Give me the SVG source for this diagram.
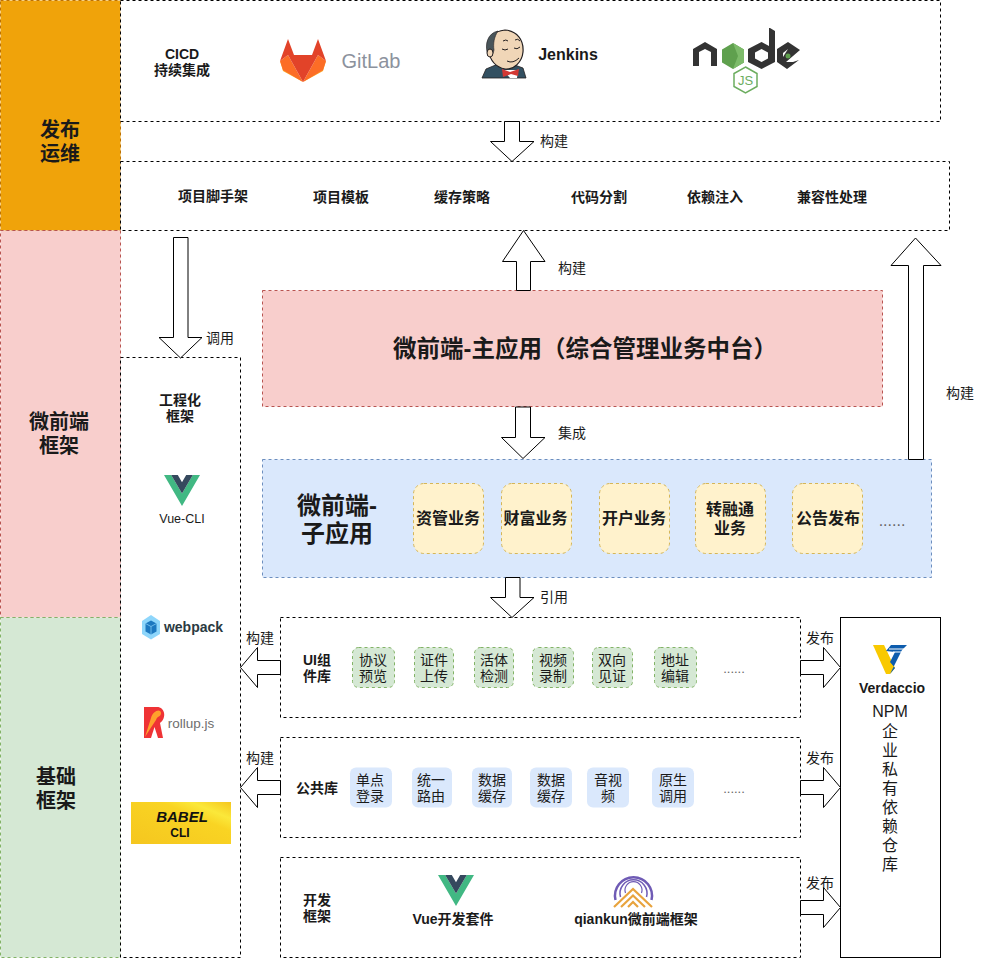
<svg xmlns="http://www.w3.org/2000/svg" width="982" height="958" viewBox="0 0 982 958">
<style>
text{font-family:"Liberation Sans","Noto Sans CJK SC",sans-serif;fill:#1a1a1a;text-anchor:middle;dominant-baseline:central}
.b{font-weight:700}
.s14{font-size:14px}.s12{font-size:12.500px}.s16{font-size:16px}.s20{font-size:20px}
.dots{font-size:13px;fill:#666}
.box{fill:#fff;stroke:#000;stroke-dasharray:3 3}
.arrow{fill:#fff;stroke:#000;stroke-width:1}
.card{fill:#fff2cc;stroke:#d6b656;stroke-dasharray:3 3}
.gc{fill:#d5e8d4;stroke:#82b366;stroke-dasharray:3 3}
.bc{fill:#dae8fc}
</style>
<defs>
<symbol id="vue" viewBox="0 0 36 31">
<path d="M0 0H7.200L18 18.600 28.800 0H36L18 31Z" fill="#41b883"/>
<path d="M7.200 0H13.800L18 7.300 22.200 0H28.800L18 18.600Z" fill="#35495e"/>
</symbol>
<linearGradient id="babel-bg" x1="0" y1="1" x2="1" y2="0">
<stop offset="0" stop-color="#f5c61f"/><stop offset=".65" stop-color="#f9d423"/><stop offset=".8" stop-color="#fbe83a"/><stop offset="1" stop-color="#f5c61f"/>
</linearGradient>
</defs>

<g id="band-ops"><rect x="0.500" y="0.500" width="120" height="230" fill="#f0a30a" stroke="#bd7000" stroke-dasharray="3 3"/><text class="b s20" x="60" y="130">发布</text><text class="b s20" x="60" y="154">运维</text></g>
<g id="band-micro"><rect x="0.500" y="230.500" width="120" height="387" fill="#f8cecc" stroke="#b85450" stroke-dasharray="3 3"/><text class="b s20" x="59" y="422">微前端</text><text class="b s20" x="59" y="446">框架</text></g>
<g id="band-base"><rect x="0.500" y="617.500" width="120" height="340" fill="#d5e8d4" stroke="#82b366" stroke-dasharray="3 3"/><text class="b s20" x="56" y="777">基础</text><text class="b s20" x="56" y="801">框架</text></g>

<g id="cicd">
<rect class="box" x="120.500" y="0.500" width="820" height="121"/>
<text class="b s14" x="182" y="54">CICD</text><text class="b s14" x="182" y="70">持续集成</text>
<g id="gitlab-logo">
<path d="M303 82L280 61 283 71Z" fill="#fca326"/>
<path d="M303 82L326 61 323 71Z" fill="#fca326"/>
<path d="M288 55L280 61 283 70 303 82Z" fill="#fc6d26"/>
<path d="M318 55L326 61 323 70 303 82Z" fill="#fc6d26"/>
<path d="M303 82L288 55H318Z" fill="#e24329"/>
<path d="M280 61L288 39 294 55H288Z" fill="#e24329"/>
<path d="M326 61L318 39 312 55H318Z" fill="#e24329"/>
<text x="371" y="61" style="font-size:20px;fill:#8c929d">GitLab</text>
</g>
<g id="jenkins-logo">
<path d="M482 78L486 69 498 64 512 64 523 68 526 78Z" fill="#335061" stroke="#231f20" stroke-width=".8"/>
<path d="M503 70L510 78H517L518 70Z" fill="#fff"/>
<path d="M488 50C486 38 494 31 505 30 517 31 524 40 523 52 522 62 514 70 505 69 495 67 490 60 488 50Z" fill="#f0d6b7" stroke="#231f20" stroke-width="1.200"/>
<path d="M488 55C484 44 488 33 498 31 494 37 493 44 494 50 493 55 490 57 488 55Z" fill="#49555a" stroke="#231f20" stroke-width=".6"/>
<ellipse cx="490" cy="53" rx="3" ry="4" fill="#f0d6b7" stroke="#231f20"/>
<path d="M502 49Q505 51 508 49M514 48Q517 50 520 47M503 41Q506 39 508 41M515 40Q518 38 520 41M507 61Q513 64 519 58" fill="none" stroke="#231f20" stroke-width="1"/>
<path d="M502 69L510 72 519 69 518 76 511 74 503 77Z" fill="#d33833"/>
<text class="b s16" x="568" y="54">Jenkins</text>
</g>
<g id="node-logo">
<path d="M693 66V49L705 42 717 49V66H711V52L705 49 699 52V66Z" fill="#333"/>
<path d="M733 43L744 49.500V62.500L733 69 722 62.500V49.500Z" fill="#5fa04e"/>
<path d="M733 43L744 49.500V62.500L733 69 738 56Z" fill="#7dbb6a"/>
<path d="M770 28L775 31V62L761.500 69 748 62V49L761.500 42 769 46V28ZM761.500 49L755 52.500V58.500L761.500 62 768 58.500V52.500Z" fill="#333" fill-rule="evenodd"/>
<path d="M788 42L800 50 786 62 793 62 799 60 787 69 777 62V49ZM788 49L783 53V57Z" fill="#333" fill-rule="evenodd"/>
<circle cx="788" cy="56" r="2.500" fill="#5fa04e"/>
<path d="M745.500 67L757 73.500V86.500L745.500 93 734 86.500V73.500Z" fill="#fff" stroke="#6cad5f" stroke-width="1.500"/>
<text x="745.500" y="80" style="font-size:13px;fill:#6cad5f">JS</text>
</g>
</g>

<g id="build-options">
<rect class="box" x="120.500" y="161.500" width="829" height="69"/>
<text class="b s14" x="213" y="196">项目脚手架</text>
<text class="b s14" x="341" y="197">项目模板</text>
<text class="b s14" x="462" y="197">缓存策略</text>
<text class="b s14" x="599" y="197">代码分割</text>
<text class="b s14" x="715" y="197">依赖注入</text>
<text class="b s14" x="832" y="197">兼容性处理</text>
</g>

<g id="main-app">
<rect x="262.500" y="290.500" width="620" height="116" fill="#f8cecc" stroke="#b85450" stroke-dasharray="3 3"/>
<text class="b" x="585" y="349" style="font-size:23.500px">微前端-主应用（综合管理业务中台）</text>
</g>

<g id="sub-app">
<rect x="262.500" y="459.500" width="669" height="118" fill="#dae8fc" stroke="#6c8ebf" stroke-dasharray="3 3"/>
<text class="b" x="337" y="505" style="font-size:24px">微前端-</text>
<text class="b" x="337" y="533" style="font-size:24px">子应用</text>
<rect class="card" x="413.500" y="483.500" width="70" height="70" rx="10.500"/><text class="b s16" x="448" y="518">资管业务</text>
<rect class="card" x="501.500" y="483.500" width="70" height="70" rx="10.500"/><text class="b s16" x="535.500" y="518">财富业务</text>
<rect class="card" x="599.500" y="483.500" width="70" height="70" rx="10.500"/><text class="b s16" x="634" y="518">开户业务</text>
<rect class="card" x="695.500" y="483.500" width="70" height="70" rx="10.500"/><text class="b s16" x="730" y="509">转融通</text><text class="b s16" x="730" y="528">业务</text>
<rect class="card" x="792.500" y="483.500" width="70" height="70" rx="10.500"/><text class="b s16" x="828" y="518">公告发布</text>
<text x="892" y="520" style="font-size:16px;fill:#666">......</text>
</g>

<g id="tooling">
<rect class="box" x="120.500" y="357.500" width="120" height="600"/>
<text class="b s14" x="180" y="400">工程化</text><text class="b s14" x="180" y="416">框架</text>
<use href="#vue" x="164" y="475" width="36" height="31"/>
<text class="s12" x="182" y="519">Vue-CLI</text>
<g id="webpack-logo">
<path d="M151 615L160 621V634L151 639.500 142 634V621Z" fill="#8ed6fb"/>
<path d="M151 620.500L156.500 623.500V631.500L151 634.500 145.500 631.500V623.500Z" fill="#1c78c0"/>
<path d="M145.500 623.500L151 626.500 156.500 623.500M151 626.500V634.500" fill="none" stroke="#8ed6fb" stroke-width=".7"/>
<text class="b s14" x="193.500" y="627" style="fill:#2b3a42">webpack</text>
</g>
<g id="rollup-logo">
<path d="M144 707H157C165 707 167 718 160 723L163 738H144Z" fill="#ef3335"/>
<path d="M145 737L151 718C153 711 160 708 161 713 161 717 157 716 156 720L150 729Z" fill="#ffa12c"/>
<path d="M151 738L154.500 727 158 738Z" fill="#fff"/>
<text x="191" y="723" style="font-size:13.500px;fill:#6e6e6e">rollup.js</text>
</g>
<g id="babel-logo">
<rect x="131" y="802" width="100" height="42" fill="url(#babel-bg)"/>
<text class="b" x="182" y="816" style="font-size:15px;font-style:italic;fill:#111">BABEL</text>
<text class="b" x="180" y="833" style="font-size:12px;fill:#111">CLI</text>
</g>
</g>

<g id="ui-lib">
<rect class="box" x="280.500" y="617.500" width="520" height="100"/>
<text class="b s14" x="317" y="660">UI组</text><text class="b s14" x="317" y="676">件库</text>
<rect class="gc" x="352.500" y="647.500" width="42" height="40" rx="6"/><text class="s14" x="373" y="660">协议</text><text class="s14" x="373" y="676">预览</text>
<rect class="gc" x="414.500" y="647.500" width="39" height="40" rx="6"/><text class="s14" x="434" y="660">证件</text><text class="s14" x="434" y="676">上传</text>
<rect class="gc" x="474.500" y="647.500" width="39" height="40" rx="6"/><text class="s14" x="494" y="660">活体</text><text class="s14" x="494" y="676">检测</text>
<rect class="gc" x="532.500" y="647.500" width="41" height="40" rx="6"/><text class="s14" x="553" y="660">视频</text><text class="s14" x="553" y="676">录制</text>
<rect class="gc" x="592.500" y="647.500" width="40" height="40" rx="6"/><text class="s14" x="612" y="660">双向</text><text class="s14" x="612" y="676">见证</text>
<rect class="gc" x="654.500" y="647.500" width="42" height="40" rx="6"/><text class="s14" x="675" y="660">地址</text><text class="s14" x="675" y="676">编辑</text>
<text class="dots" x="734" y="668">......</text>
</g>

<g id="common-lib">
<rect class="box" x="280.500" y="737.500" width="520" height="100"/>
<text class="b s14" x="317" y="788">公共库</text>
<rect class="bc" x="350" y="767.500" width="42" height="40" rx="6"/><text class="s14" x="370" y="780">单点</text><text class="s14" x="370" y="796">登录</text>
<rect class="bc" x="412" y="767.500" width="40" height="40" rx="6"/><text class="s14" x="431" y="780">统一</text><text class="s14" x="431" y="796">路由</text>
<rect class="bc" x="472" y="767.500" width="40" height="40" rx="6"/><text class="s14" x="492" y="780">数据</text><text class="s14" x="492" y="796">缓存</text>
<rect class="bc" x="530" y="767.500" width="42" height="40" rx="6"/><text class="s14" x="551" y="780">数据</text><text class="s14" x="551" y="796">缓存</text>
<rect class="bc" x="587" y="767.500" width="42" height="40" rx="6"/><text class="s14" x="608" y="780">音视</text><text class="s14" x="608" y="796">频</text>
<rect class="bc" x="652" y="767.500" width="42" height="40" rx="6"/><text class="s14" x="673" y="780">原生</text><text class="s14" x="673" y="796">调用</text>
<text class="dots" x="734" y="788">......</text>
</g>

<g id="dev-framework">
<rect class="box" x="280.500" y="857.500" width="520" height="100"/>
<text class="b s14" x="317" y="900">开发</text><text class="b s14" x="317" y="916">框架</text>
<use href="#vue" x="438" y="875" width="36" height="31"/>
<text class="b s14" x="453" y="919">Vue开发套件</text>
<g id="qiankun-logo" fill="none">
<path d="M615.500 900A18.500 18.500 0 1 1 651.500 900" stroke="#6f5bb5" stroke-width="2.500"/>
<path d="M620.500 897A13.500 13.500 0 1 1 646.500 897" stroke="#6f5bb5" stroke-width="1.500"/>
<path d="M625.500 893A8.500 8.500 0 1 1 641.500 893" stroke="#6f5bb5" stroke-width="1.200"/>
<path d="M614 907L633 889 652 907M621 907L633 895.500 645 907M628 907L633 902 638 907" stroke="#e8a33d" stroke-width="2.200"/>
</g>
<text class="b s14" x="636" y="919">qiankun微前端框架</text>
</g>

<g id="npm-repo">
<rect x="840.500" y="617.500" width="100" height="340" fill="#fff" stroke="#000"/>
<g id="verdaccio-logo">
<path d="M873 645H884L895 668 890 674H886Z" fill="#f9c900"/>
<path d="M890 674L902 650 907 645H891L886 651 895 652 890 662 895 668Z" fill="#0d5cad"/>
<path d="M889 649H906M893 652H904" stroke="#fff" stroke-width="1"/>
</g>
<text class="b s14" x="892" y="688">Verdaccio</text>
<text class="s16" x="890" y="711">NPM</text>
<text class="s16" x="890" y="731">企</text><text class="s16" x="890" y="750">业</text><text class="s16" x="890" y="769">私</text><text class="s16" x="890" y="788">有</text><text class="s16" x="890" y="807">依</text><text class="s16" x="890" y="826">赖</text><text class="s16" x="890" y="845">仓</text><text class="s16" x="890" y="864">库</text>
</g>

<g id="connectors">
<path class="arrow" d="M504.500 121.500H519.500V141.500H534L512 161.500 490.500 141.500H504.500Z"/>
<path class="arrow" d="M516.500 290.500V261.500H502.500L523.500 230.500 545 261.500H530.500V290.500Z"/>
<path class="arrow" d="M908.500 459.500V265.500H891L915.500 238 941 265.500H923.500V459.500Z"/>
<path class="arrow" d="M173.500 237.500H188V337.500H202L180.500 358 159 337.500H173.500Z"/>
<path class="arrow" d="M515.500 407H530.500V437.500H545L523 458.500 501.500 437.500H515.500Z"/>
<path class="arrow" d="M505.500 577.500H520V597.500H534L512 617.500 490.500 597.500H505.500Z"/>
<path class="arrow" d="M280.500 660.500V674.500H257.500V687.500L240.500 667.500 257.500 647.500V660.500Z"/>
<path class="arrow" d="M280.500 780.500V794.500H257.500V807.500L240.500 787.500 257.500 767.500V780.500Z"/>
<path class="arrow" d="M800.500 660.500H823.500V647.500L840.500 667.500 823.500 687.500V674.500H800.500Z"/>
<path class="arrow" d="M800.500 780.500H823.500V767.500L840.500 787.500 823.500 807.500V794.500H800.500Z"/>
<path class="arrow" d="M800.500 900.500H823.500V887.500L840.500 907.500 823.500 927.500V914.500H800.500Z"/>
<text class="s14" x="554" y="141">构建</text>
<text class="s14" x="572" y="268">构建</text>
<text class="s14" x="960" y="393">构建</text>
<text class="s14" x="220" y="338">调用</text>
<text class="s14" x="572" y="433">集成</text>
<text class="s14" x="554" y="597">引用</text>
<text class="s14" x="260" y="638">构建</text>
<text class="s14" x="260" y="758">构建</text>
<text class="s14" x="820" y="638">发布</text>
<text class="s14" x="820" y="758">发布</text>
<text class="s14" x="820" y="883">发布</text>
</g>
</svg>
